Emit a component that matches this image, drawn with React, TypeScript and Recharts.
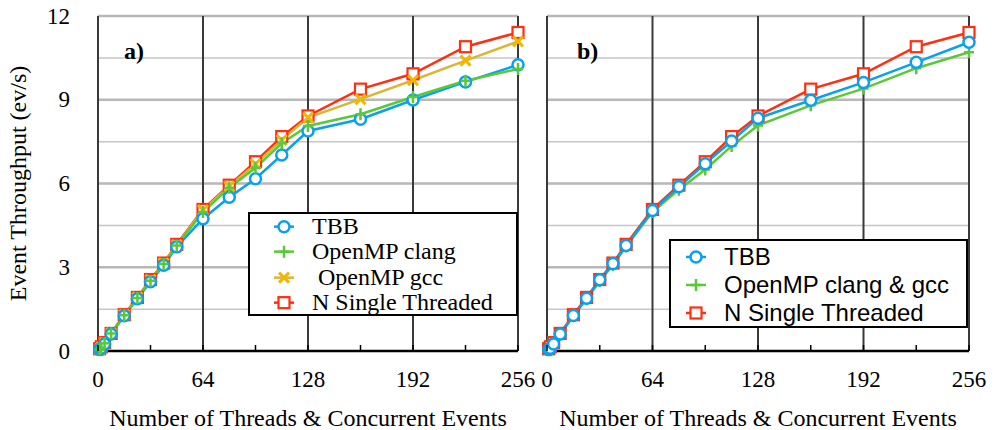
import { LineChart, Line, XAxis, YAxis, CartesianGrid, Legend, ReferenceLine, Customized, Label } from 'recharts';

// thread counts (x) shared by both panels
const threads = [1, 2, 4, 8, 16, 24, 32, 40, 48, 64, 80, 96, 112, 128, 160, 192, 224, 256];

// panel a)
const tbbA = [0.05, 0.1, 0.25, 0.61, 1.26, 1.87, 2.48, 3.07, 3.73, 4.74, 5.51, 6.17, 7.02, 7.88, 8.3, 8.99, 9.64, 10.25];
const clangA = [0.05, 0.12, 0.28, 0.63, 1.28, 1.9, 2.52, 3.12, 3.78, 4.98, 5.85, 6.56, 7.44, 8.06, 8.48, 9.1, 9.68, 10.1];
const gccA = [0.05, 0.13, 0.3, 0.64, 1.3, 1.92, 2.55, 3.14, 3.8, 5.05, 5.9, 6.7, 7.56, 8.36, 9.02, 9.7, 10.4, 11.09];
const singleA = [0.08, 0.15, 0.3, 0.63, 1.3, 1.92, 2.56, 3.15, 3.82, 5.07, 5.94, 6.78, 7.68, 8.42, 9.38, 9.93, 10.9, 11.41];

// panel b)
const tbbB = [0.05, 0.1, 0.25, 0.61, 1.27, 1.89, 2.55, 3.13, 3.78, 5.03, 5.88, 6.71, 7.52, 8.34, 8.98, 9.62, 10.34, 11.06];
const ompB = [0.05, 0.12, 0.27, 0.6, 1.25, 1.86, 2.5, 3.08, 3.74, 4.98, 5.78, 6.5, 7.34, 8.08, 8.8, 9.4, 10.13, 10.7];
const singleB = [0.08, 0.15, 0.3, 0.63, 1.3, 1.92, 2.56, 3.15, 3.82, 5.07, 5.94, 6.78, 7.68, 8.42, 9.38, 9.93, 10.9, 11.41];

const xTicks = [0, 32, 64, 96, 128, 160, 192, 224, 256];
const xMajor = [64, 128, 192, 256];
const yTicks = [0, 1.5, 3, 4.5, 6, 7.5, 9, 10.5, 12];
const yMajor = [3, 6, 9, 12];

const dataA = threads.map((t, i) => ({ t, tbb: tbbA[i], clang: clangA[i], gcc: gccA[i], single: singleA[i] }));
const dataB = threads.map((t, i) => ({ t, tbb: tbbB[i], omp: ompB[i], single: singleB[i] }));

const SERIF = "'Liberation Serif', 'Times New Roman', serif";
const SANS = "'Liberation Sans', Arial, sans-serif";

const BLUE = '#0aa0ee';
const GREEN = '#5bc83a';
const GOLD_LINE = '#dcb535';
const GOLD = '#f2b705';
const RED = '#ff2f0f';

type Shape = 'circle' | 'square' | 'cross' | 'plus';

function Marker({ shape, cx, cy, color }: { shape: Shape; cx: number; cy: number; color: string }) {
  if (shape === 'circle') return <circle cx={cx} cy={cy} r={5.5} fill="#fff" stroke={color} strokeWidth={2.5} />;
  if (shape === 'square')
    return <rect x={cx - 5.5} y={cy - 5.5} width={11} height={11} fill="#fff" stroke={color} strokeWidth={2.2} />;
  if (shape === 'cross')
    return (
      <path d={`M${cx - 5},${cy - 5}L${cx + 5},${cy + 5}M${cx - 5},${cy + 5}L${cx + 5},${cy - 5}`} stroke={color} strokeWidth={3} fill="none" />
    );
  return <path d={`M${cx - 5},${cy}L${cx + 5},${cy}M${cx},${cy - 6}L${cx},${cy + 6}`} stroke={color} strokeWidth={2.5} fill="none" />;
}

const dotFor = (shape: Shape, color: string) => (p: any) =>
  <Marker key={p.index} shape={shape} cx={p.cx} cy={p.cy} color={color} />;

function XTick({ x, y, payload }: any) {
  const v = payload.value;
  return (
    <g>
      <line x1={x} x2={x} y1={y} y2={y - 6} stroke="#000" strokeWidth={1.5} />
      {v % 64 === 0 && (
        <text x={x} y={y + 36} textAnchor="middle" fontSize={23} fontFamily={SERIF} fill="#000">
          {v}
        </text>
      )}
    </g>
  );
}

function YTick({ x, y, payload }: any) {
  if (payload.value % 3 !== 0) return <g />;
  return (
    <text x={x - 28} y={y} textAnchor="end" dominantBaseline="central" fontSize={23} fontFamily={SERIF} fill="#000">
      {payload.value}
    </text>
  );
}

interface Row {
  name: string;
  shape: Shape;
  color: string;
  lineColor: string;
}

const rowsA: Row[] = [
  { name: 'TBB', shape: 'circle', color: BLUE, lineColor: BLUE },
  { name: 'OpenMP clang', shape: 'plus', color: GREEN, lineColor: GREEN },
  { name: ' OpenMP gcc', shape: 'cross', color: GOLD, lineColor: GOLD_LINE },
  { name: 'N Single Threaded', shape: 'square', color: RED, lineColor: RED },
];
const rowsB: Row[] = [
  { name: 'TBB', shape: 'circle', color: BLUE, lineColor: BLUE },
  { name: 'OpenMP clang & gcc', shape: 'plus', color: GREEN, lineColor: GREEN },
  { name: 'N Single Threaded', shape: 'square', color: RED, lineColor: RED },
];

function LegendBox({ rows, font, rowH, padTop, markX, textX }: { rows: Row[]; font: string; rowH: number; padTop: number; markX: number; textX: number }) {
  return (
    <div style={{ width: '100%', height: '100%', boxSizing: 'border-box', border: '2px solid #000', background: '#fff', paddingTop: padTop }}>
      {rows.map((r) => (
        <div key={r.name} style={{ position: 'relative', height: rowH, fontFamily: font, fontSize: 24, lineHeight: `${rowH}px`, whiteSpace: 'pre', color: '#000' }}>
          <svg width={26} height={rowH} style={{ position: 'absolute', left: markX - 15, top: 0 }}>
            <line x1={3} x2={23} y1={rowH / 2} y2={rowH / 2} stroke={r.lineColor} strokeWidth={2.5} />
            <Marker shape={r.shape} cx={13} cy={rowH / 2} color={r.color} />
          </svg>
          <span style={{ position: 'absolute', left: textX - 2, top: 0 }}>{r.name}</span>
        </div>
      ))}
    </div>
  );
}

const yTitle = ({ viewBox }: any) => (
  <text
    x={18}
    y={viewBox.y + viewBox.height / 2}
    transform={`rotate(-90 18 ${viewBox.y + viewBox.height / 2})`}
    textAnchor="middle"
    dominantBaseline="central"
    fontSize={24}
    fontFamily={SERIF}
    fill="#000"
  >
    Event Throughput (ev/s)
  </text>
);

const xTitle = ({ viewBox }: any) => (
  <text x={viewBox.x + viewBox.width / 2} y={viewBox.y + 75} textAnchor="middle" fontSize={24} fontFamily={SERIF} fill="#000">
    Number of Threads &amp; Concurrent Events
  </text>
);

function Frame() {
  return null;
}

export default function App() {
  return (
    <div style={{ position: 'absolute', left: 0, top: 0, width: 995, height: 430, background: '#fff' }}>
      {/* panel a) */}
      <div style={{ position: 'absolute', left: 0, top: 0 }}>
        <LineChart width={545} height={430} data={dataA} margin={{ top: 16, right: 27, bottom: 0, left: 0 }}>
          <CartesianGrid vertical={false} stroke="#c6c6c6" strokeWidth={1.5} />
          {yMajor.map((v) => (
            <ReferenceLine key={v} y={v} stroke="#b8b8b8" strokeWidth={2.5} />
          ))}
          {xMajor.map((v) => (
            <ReferenceLine key={v} x={v} stroke="#3a3a3a" strokeWidth={2} />
          ))}
          <XAxis dataKey="t" type="number" domain={[0, 256]} ticks={xTicks} interval={0} height={79} tickSize={0} tickMargin={0} tickLine={false} axisLine={{ stroke: '#000', strokeWidth: 2.5 }} tick={<XTick />}>
            <Label content={xTitle} />
          </XAxis>
          <YAxis type="number" domain={[0, 12]} ticks={yTicks} interval={0} width={98} tickSize={0} tickMargin={0} tickLine={false} axisLine={{ stroke: '#3a3a3a', strokeWidth: 2 }} tick={<YTick />}>
            <Label content={yTitle} />
          </YAxis>
          <Line type="linear" dataKey="single" stroke={RED} strokeWidth={2.5} dot={dotFor('square', RED)} activeDot={false} isAnimationActive={false} />
          <Line type="linear" dataKey="gcc" stroke={GOLD_LINE} strokeWidth={2.5} dot={dotFor('cross', GOLD)} activeDot={false} isAnimationActive={false} />
          <Line type="linear" dataKey="tbb" stroke={BLUE} strokeWidth={2.5} dot={dotFor('circle', BLUE)} activeDot={false} isAnimationActive={false} />
          <Line type="linear" dataKey="clang" stroke={GREEN} strokeWidth={2.5} dot={dotFor('plus', GREEN)} activeDot={false} isAnimationActive={false} />
          <Customized component={() => (
            <text x={124} y={59} fontSize={24} fontWeight="bold" fontFamily={SERIF} fill="#000">a)</text>
          )} />
          <Legend
            layout="vertical"
            verticalAlign="middle"
            align="center"
            wrapperStyle={{ left: 248, top: 212, width: 270, height: 104 }}
            content={() => <LegendBox rows={rowsA} font={SERIF} rowH={25.3} padTop={0} markX={36} textX={64} />}
          />
        </LineChart>
      </div>
      {/* panel b) */}
      <div style={{ position: 'absolute', left: 530, top: 0 }}>
        <LineChart width={465} height={430} data={dataB} margin={{ top: 16, right: 26, bottom: 0, left: 0 }}>
          <CartesianGrid vertical={false} stroke="#c6c6c6" strokeWidth={1.5} />
          {yMajor.map((v) => (
            <ReferenceLine key={v} y={v} stroke="#b8b8b8" strokeWidth={2.5} />
          ))}
          {xMajor.map((v) => (
            <ReferenceLine key={v} x={v} stroke="#3a3a3a" strokeWidth={2} />
          ))}
          <XAxis dataKey="t" type="number" domain={[0, 256]} ticks={xTicks} interval={0} height={79} tickSize={0} tickMargin={0} tickLine={false} axisLine={{ stroke: '#000', strokeWidth: 2.5 }} tick={<XTick />}>
            <Label content={xTitle} />
          </XAxis>
          <YAxis type="number" domain={[0, 12]} ticks={yTicks} interval={0} width={17} tickSize={0} tickMargin={0} tickLine={false} axisLine={{ stroke: '#3a3a3a', strokeWidth: 2 }} tick={<Frame />} />
          <Line type="linear" dataKey="single" stroke={RED} strokeWidth={2.5} dot={dotFor('square', RED)} activeDot={false} isAnimationActive={false} />
          <Line type="linear" dataKey="omp" stroke={GREEN} strokeWidth={2.5} dot={dotFor('plus', GREEN)} activeDot={false} isAnimationActive={false} />
          <Line type="linear" dataKey="tbb" stroke={BLUE} strokeWidth={2.5} dot={dotFor('circle', BLUE)} activeDot={false} isAnimationActive={false} />
          <Customized component={() => (
            <text x={47} y={59} fontSize={24} fontWeight="bold" fontFamily={SERIF} fill="#000">b)</text>
          )} />
          <Legend
            layout="vertical"
            verticalAlign="middle"
            align="center"
            wrapperStyle={{ left: 139, top: 239, width: 299, height: 89 }}
            content={() => <LegendBox rows={rowsB} font={SANS} rowH={28} padTop={2} markX={27} textX={55} />}
          />
        </LineChart>
      </div>
    </div>
  );
}
